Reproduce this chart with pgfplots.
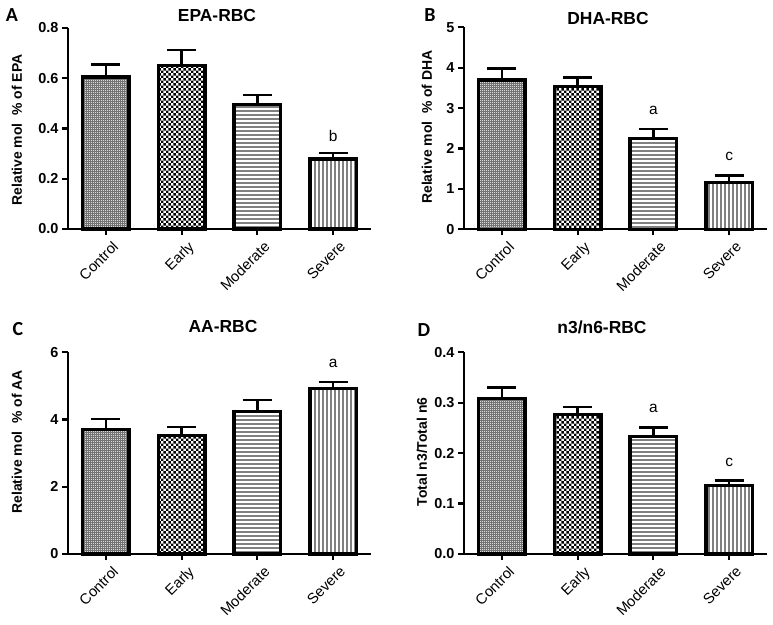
\documentclass[border=0pt]{standalone}
\usepackage{pgfplots}
\pgfplotsset{compat=1.18}
\usetikzlibrary{patterns.meta}
\usepackage{fontspec}
\setmainfont{Liberation Sans}
\newfontfamily\calfont{Carlito}

\tikzdeclarepattern{name=ctrlpat, type=colored, bounding box={(0,0) and (2pt,2pt)}, tile size={(2pt,2pt)},
  code={\fill[black!55] (0,0) rectangle (2pt,2pt); \fill[white!85!black] (0,0) rectangle (1pt,1pt);}}
\tikzdeclarepattern{name=checkpat, type=uncolored, bounding box={(0,0) and (5.4pt,5.4pt)}, tile size={(5.4pt,5.4pt)},
  code={\fill (0,0) rectangle (2.7pt,2.7pt); \fill (2.7pt,2.7pt) rectangle (5.4pt,5.4pt);}}
\tikzdeclarepattern{name=hpat, type=uncolored, bounding box={(0,0) and (10pt,3.8pt)}, tile size={(10pt,3.8pt)},
  code={\fill (0,0) rectangle (10pt,1.9pt);}}
\tikzdeclarepattern{name=vpat, type=uncolored, bounding box={(0,0) and (3.8pt,10pt)}, tile size={(3.8pt,10pt)},
  code={\fill (0,0) rectangle (1.9pt,10pt);}}

\pgfplotsset{
  panel/.style={
    scale only axis, width=303bp,
    xmin=-0.5, xmax=3.5, ymin=0,
    axis x line=bottom, axis y line=left,
    axis line style={-, line width=2.2bp},
    xtick={0,1,2,3}, xticklabels={Control,Early,Moderate,Severe},
    xticklabel style={rotate=45, anchor=north east, font=\fontsize{14.8}{16}\selectfont, inner sep=2.5bp, xshift=3bp, yshift=-5bp},
    yticklabel style={font=\bfseries\fontsize{14.5}{16}\selectfont},
    /pgf/number format/assume math mode=true,
    tick align=outside, major tick length=6bp,
    tick style={line width=2.2bp, black},
    clip=false,
  },
  mybar/.style={ybar, bar shift=0pt, bar width=0.615, draw=black, line width=3.4bp,
    /pgfplots/error bars/y dir=plus, /pgfplots/error bars/y explicit,
    /pgfplots/error bars/error bar style={line width=2.4bp, black},
    /pgfplots/error bars/error mark options={rotate=90, line width=2.4bp, black, mark size=14.5bp}},
  pc/.style={mybar, pattern=ctrlpat},
  pe/.style={mybar, pattern=checkpat, pattern color=black},
  pm/.style={mybar, pattern=hpat, pattern color=black!50},
  ps/.style={mybar, pattern=vpat, pattern color=black!50},
}

\begin{document}
\begin{tikzpicture}
\useasboundingbox (0,0) rectangle (773bp,625bp);

% Panel A
\begin{axis}[panel, at={(68bp,396bp)}, anchor=south west, height=201bp, ymax=0.8,
  ytick={0,0.2,0.4,0.6,0.8},
  yticklabel style={/pgf/number format/.cd, fixed, fixed zerofill, precision=1}]
\addplot[pc] coordinates {(0,0.605) +- (0,0.050)};
\addplot[pe] coordinates {(1,0.650) +- (0,0.063)};
\addplot[pm] coordinates {(2,0.495) +- (0,0.038)};
\addplot[ps] coordinates {(3,0.278) +- (0,0.025)};
\node[font=\fontsize{15.5}{17}\selectfont] at (axis cs:3,0.37) {b};
\end{axis}

% Panel B
\begin{axis}[panel, at={(464bp,395.7bp)}, anchor=south west, height=202bp, ymax=5,
  ytick={0,1,2,3,4,5}]
\addplot[pc] coordinates {(0,3.70) +- (0,0.28)};
\addplot[pe] coordinates {(1,3.53) +- (0,0.23)};
\addplot[pm] coordinates {(2,2.25) +- (0,0.24)};
\addplot[ps] coordinates {(3,1.16) +- (0,0.17)};
\node[font=\fontsize{15.5}{17}\selectfont] at (axis cs:2,2.95) {a};
\node[font=\fontsize{15.5}{17}\selectfont] at (axis cs:3,1.80) {c};
\end{axis}

% Panel C
\begin{axis}[panel, at={(68bp,71bp)}, anchor=south west, height=201.7bp, ymax=6,
  ytick={0,2,4,6}]
\addplot[pc] coordinates {(0,3.71) +- (0,0.30)};
\addplot[pe] coordinates {(1,3.53) +- (0,0.24)};
\addplot[pm] coordinates {(2,4.24) +- (0,0.35)};
\addplot[ps] coordinates {(3,4.93) +- (0,0.19)};
\node[font=\fontsize{15.5}{17}\selectfont] at (axis cs:3,5.67) {a};
\end{axis}

% Panel D
\begin{axis}[panel, at={(464bp,71bp)}, anchor=south west, height=201.7bp, ymax=0.4,
  ytick={0,0.1,0.2,0.3,0.4},
  yticklabel style={/pgf/number format/.cd, fixed, fixed zerofill, precision=1}]
\addplot[pc] coordinates {(0,0.308) +- (0,0.022)};
\addplot[pe] coordinates {(1,0.277) +- (0,0.014)};
\addplot[pm] coordinates {(2,0.233) +- (0,0.018)};
\addplot[ps] coordinates {(3,0.136) +- (0,0.010)};
\node[font=\fontsize{15.5}{17}\selectfont] at (axis cs:2,0.288) {a};
\node[font=\fontsize{15.5}{17}\selectfont] at (axis cs:3,0.181) {c};
\end{axis}

% Titles
\node[font=\bfseries\fontsize{17.5}{20}\selectfont, anchor=base] at (217bp,603.8bp) {EPA-RBC};
\node[font=\bfseries\fontsize{17.5}{20}\selectfont, anchor=base] at (608bp,600bp) {DHA-RBC};
\node[font=\bfseries\fontsize{17.5}{20}\selectfont, anchor=base] at (223bp,292bp) {AA-RBC};
\node[font=\bfseries\fontsize{17.5}{20}\selectfont, anchor=base] at (602bp,291bp) {n3/n6-RBC};

% Y labels
\node[font=\bfseries\fontsize{14}{15}\selectfont, rotate=90] at (17bp,495bp) {Relative mol\ \ \% of EPA};
\node[font=\bfseries\fontsize{14}{15}\selectfont, rotate=90] at (427bp,498bp) {Relative mol\ \ \% of DHA};
\node[font=\bfseries\fontsize{14}{15}\selectfont, rotate=90] at (17bp,183bp) {Relative mol\ \ \% of AA};
\node[font=\bfseries\fontsize{14}{15}\selectfont, rotate=90] at (422bp,173bp) {Total n3/Total n6};

% Panel letters
\node[font=\calfont\bfseries\fontsize{20}{22}\selectfont] at (12bp,610bp) {A};
\node[font=\calfont\bfseries\fontsize{20}{22}\selectfont] at (430bp,610bp) {B};
\node[font=\calfont\bfseries\fontsize{20}{22}\selectfont] at (18bp,296bp) {C};
\node[font=\calfont\bfseries\fontsize{20}{22}\selectfont] at (424bp,295bp) {D};
\end{tikzpicture}
\end{document}
